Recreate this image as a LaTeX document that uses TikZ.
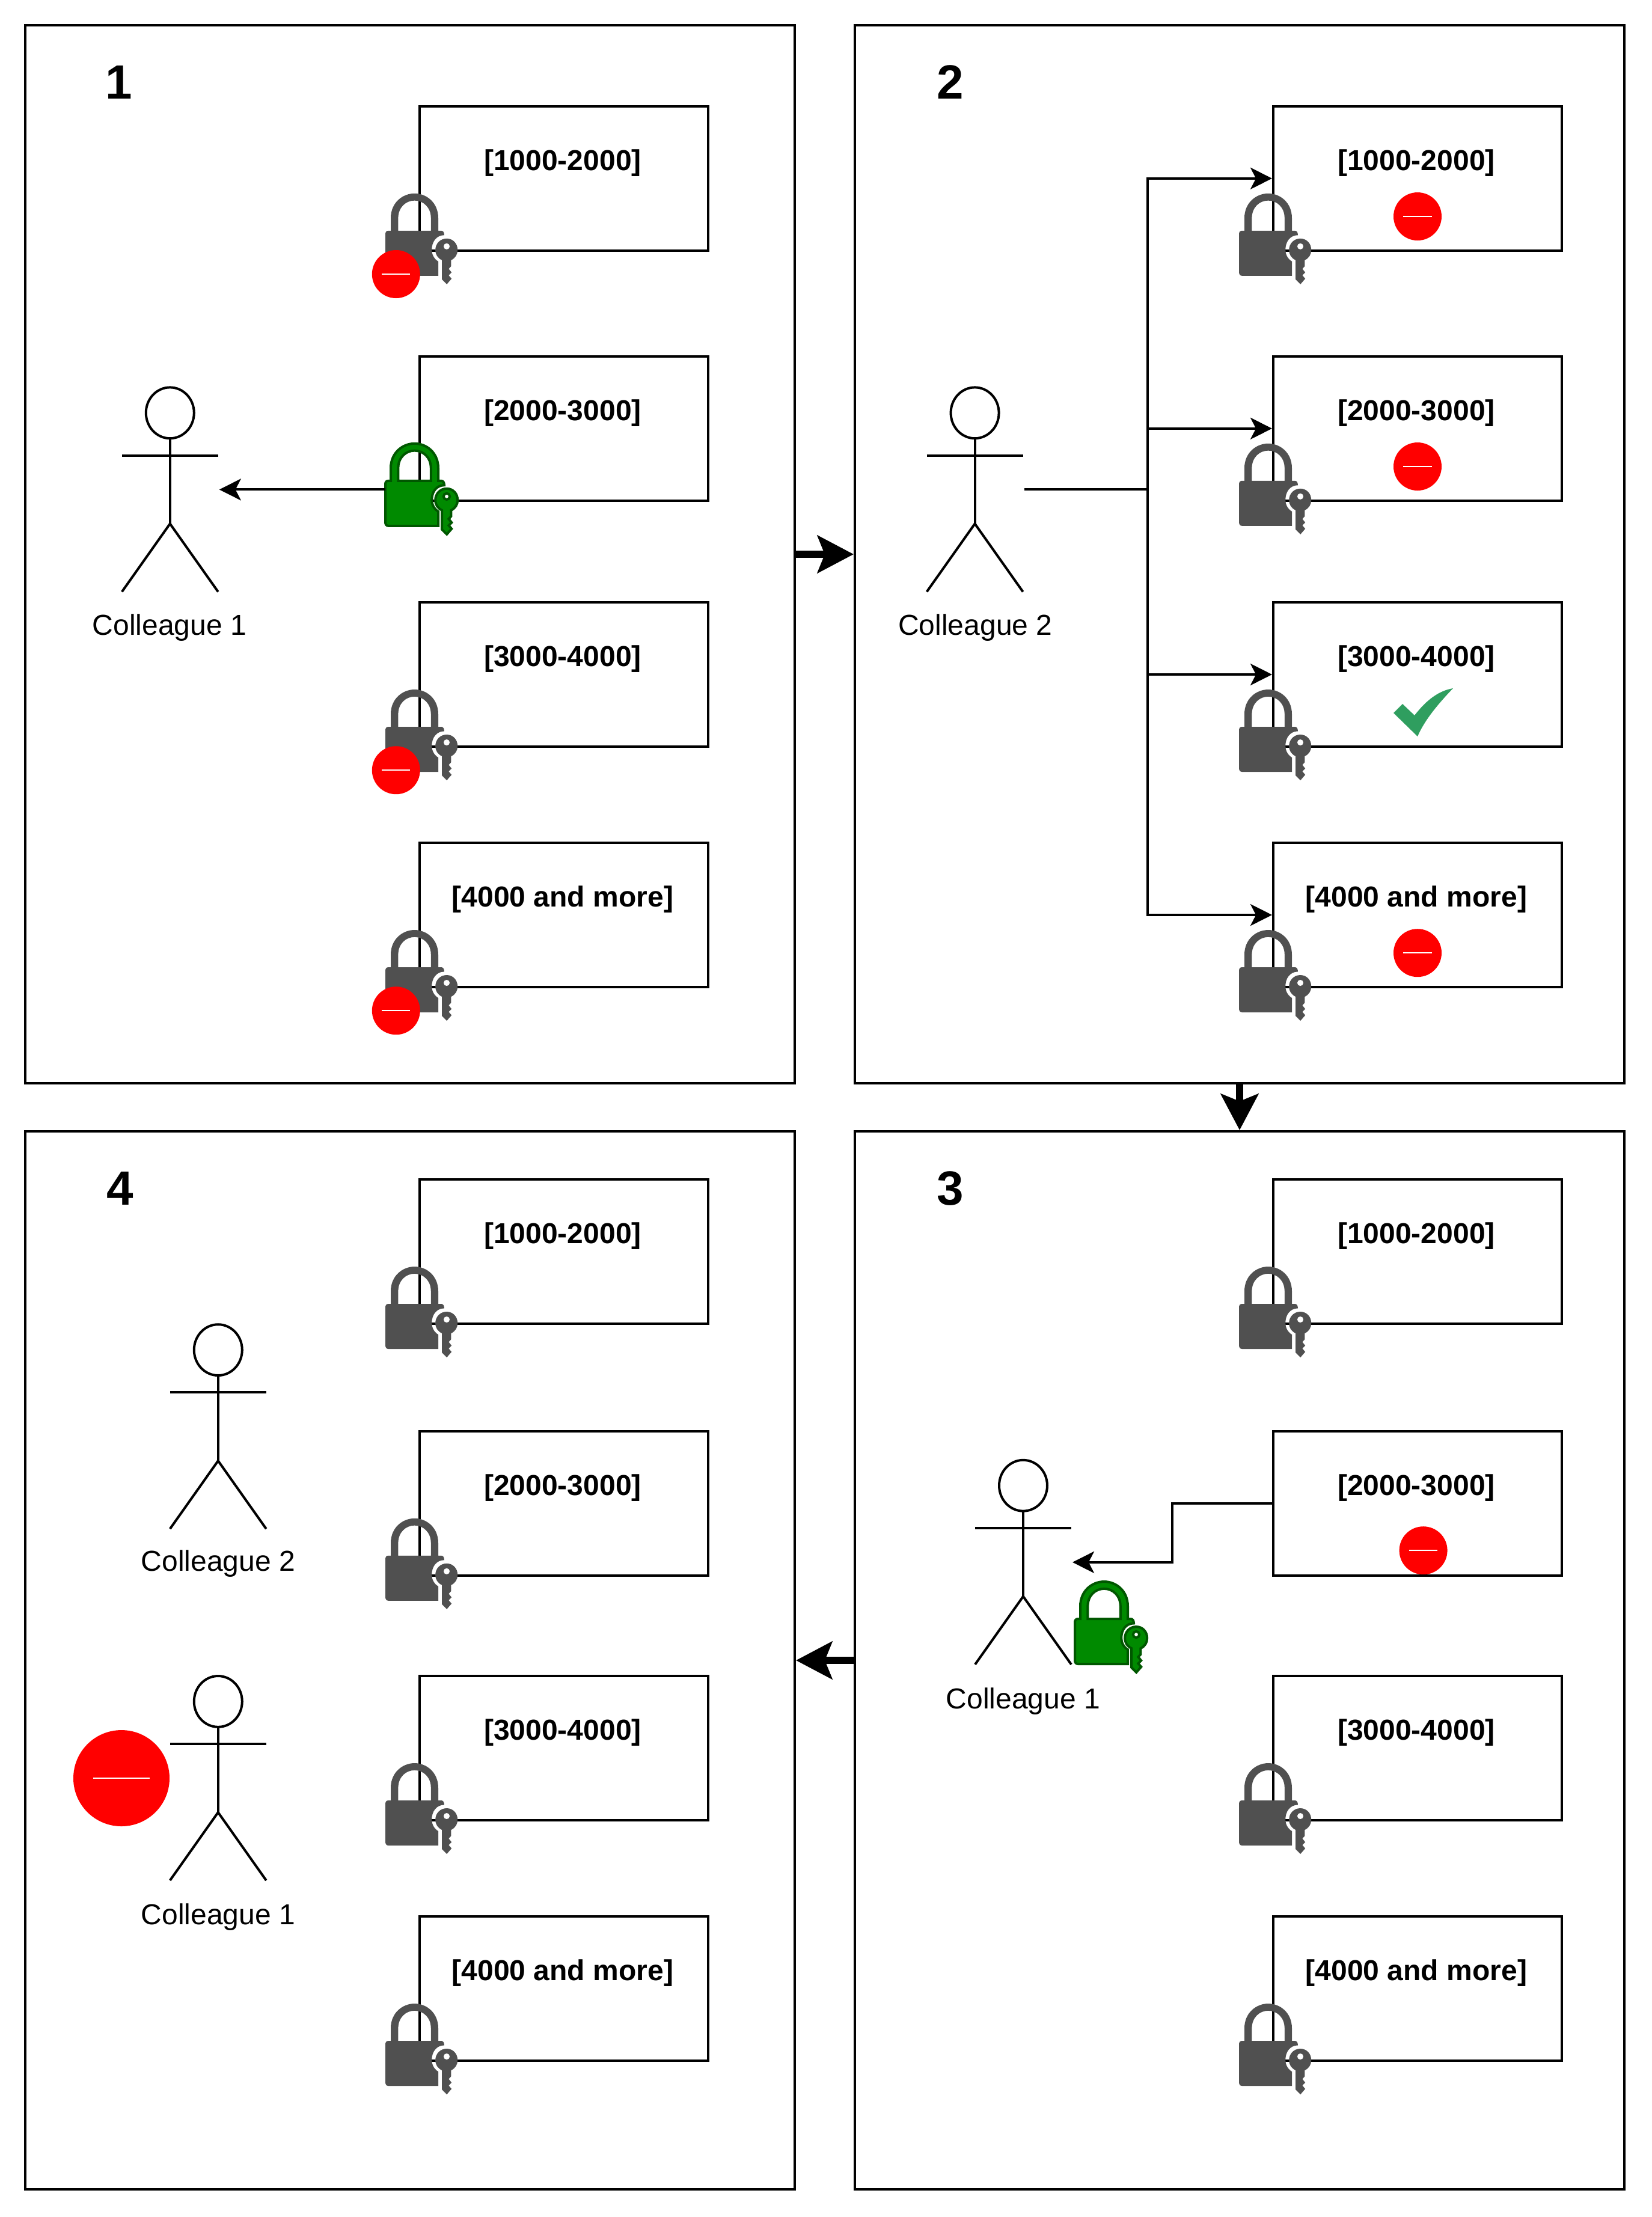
\documentclass[tikz,border=0pt]{standalone}
\usepackage{fontspec}
\setmainfont{Liberation Sans}
\usetikzlibrary{arrows.meta,calc}
\definecolor{lockgrey}{HTML}{505050}
\definecolor{lockgreen}{HTML}{008A00}
\definecolor{lockdark}{HTML}{005700}
\definecolor{okgreen}{HTML}{2F9E5F}
\definecolor{stopred}{HTML}{FF0000}
\tikzset{
  panel/.style={draw=black,fill=none,line width=1pt,rectangle,inner sep=0pt,minimum width=320pt,minimum height=440pt,anchor=north west},
  rangebox/.style={draw=black,line width=1pt,rectangle,inner sep=0pt,minimum width=120pt,minimum height=60pt,anchor=north west},
  rangetext/.style={font=\bfseries\fontsize{12}{14}\selectfont,inner sep=0pt},
  nametext/.style={font=\fontsize{12}{14}\selectfont,inner sep=0pt},
  numtext/.style={font=\bfseries\fontsize{20}{24}\selectfont,inner sep=0pt},
  conn/.style={draw=black,line width=1pt,-{Stealth[length=9pt,width=9pt,inset=2.3pt]}},
  trunk/.style={draw=black,line width=1pt},
  bigconn/.style={draw=black,line width=3pt,-{Stealth[length=15pt,width=15.5pt,inset=3pt]}},
  actorbox/.style={rectangle,inner sep=0pt,minimum width=40pt,minimum height=85pt},
  stopdisc/.style={circle,fill=stopred,inner sep=0pt,minimum size=#1},
  pics/lock/.style n args={2}{code={
    \coordinate (-w) at (-13.75,-5.1);
    \path[fill=#1,draw=#2,line width=1pt,even odd rule]
      (-12.5,-8.75) -- (-11.5,-8.75) -- (-11.5,-14)
      .. controls (-11.5,-20.5) and (-6.5,-24.25) .. (-1.6,-24.25)
      .. controls (3.3,-24.25) and (8.25,-20.5) .. (8.25,-14)
      -- (8.25,-8.75) -- (9.5,-8.75)
      .. controls (10.3,-8.75) and (10.75,-8) .. (10.75,-6.9)
      .. controls (7.5,-6.9) and (5.55,-4.2) .. (5.55,-0.75)
      .. controls (5.55,1) and (6.5,3) .. (8.25,4)
      -- (8.25,10) -- (-12.5,10)
      .. controls (-13.3,10) and (-13.75,9.3) .. (-13.75,8.5)
      -- (-13.75,-7.3)
      .. controls (-13.75,-8.2) and (-13.3,-8.75) .. (-12.5,-8.75) -- cycle
      (-8.4,-8.75) -- (5.2,-8.75) -- (5.2,-14)
      .. controls (5.2,-18.5) and (2,-21.3) .. (-1.6,-21.3)
      .. controls (-5.2,-21.3) and (-8.4,-18.5) .. (-8.4,-14) -- cycle;
    \path[fill=#1,draw=#2,line width=1pt,even odd rule]
      (9.8,3.5)
      .. controls (8,2.6) and (7.05,1.2) .. (7.05,-0.75)
      .. controls (7.05,-3.4) and (9.1,-5.5) .. (11.75,-5.5)
      .. controls (14.4,-5.5) and (16.3,-3.4) .. (16.3,-0.75)
      .. controls (16.3,1.1) and (15.4,2.6) .. (13.6,3.5)
      -- (13.6,6) -- (12.6,7.1) -- (13.8,8.6) -- (12.6,9.8) -- (13.8,11.2) -- (11.8,13.5) -- (9.8,11.5) -- cycle
      (11.75,-2.25) circle[radius=1.3];
  }},
  pics/stick/.style={code={
    \draw[line width=1pt] (0,-31.9) ellipse[x radius=10,y radius=10.6];
    \draw[line width=1pt] (0,-21.25) -- (0,14.2);
    \draw[line width=1pt] (-20,-14.2) -- (20,-14.2);
    \draw[line width=1pt] (-20,42.5) -- (0,14.2) -- (20,42.5);
  }},
}
\newcommand{\rbox}[4]{%
  \node[rangebox] (#1) at (#2,#3) {};
  \node[rangetext] (#1t) at ($(#1.north west)+(60,24)$) {#4};
}
\begin{document}
\begin{tikzpicture}[x=1pt,y=-1pt,line width=1pt]
\useasboundingbox (0,0) rectangle (687,922);
\node[panel] (p1) at (10,10) {};
\node[panel] (p2) at (355,10) {};
\node[panel] (p3) at (355,470) {};
\node[panel] (p4) at (10,470) {};
\node[numtext] (n1) at (49.5,34.2) {1};
\node[numtext] (n2) at (395.2,34.2) {2};
\node[numtext] (n3) at (395.2,494.3) {3};
\node[numtext] (n4) at (50,494.3) {4};
\draw[bigconn] (p1.east) -- (p2.west);
\draw[bigconn] (p2.south) -- (p3.north);
\draw[bigconn] (p3.west) -- (p4.east);
% panel 1
\rbox{a1}{174}{43.7}{[1000-2000]}
\rbox{a2}{174}{147.7}{[2000-3000]}
\rbox{a3}{174}{250}{[3000-4000]}
\rbox{a4}{174}{350}{[4000 and more]}
\pic at (a1.south west) {lock={lockgrey}{none}};
\pic (la2) at (a2.south west) {lock={lockgreen}{lockdark}};
\pic at (a3.south west) {lock={lockgrey}{none}};
\pic at (a4.south west) {lock={lockgrey}{none}};
\foreach \b in {a1,a3,a4}{
  \node[stopdisc=20pt] (s\b) at ($(\b.south west)+(-9.3,9.3)$) {};
  \draw[white,line width=0.4pt] ($(s\b.center)+(-5.9,0)$) -- ($(s\b.center)+(5.9,0)$);
}
\node[actorbox] (h1) at (70.7,203.6) {};
\pic at (h1.center) {stick};
\node[nametext] (h1t) at (70.5,261) {Colleague 1};
\draw[conn] (la2-w |- h1.east) -- (h1.east);
% panel 2
\rbox{b1}{529}{43.7}{[1000-2000]}
\rbox{b2}{529}{147.7}{[2000-3000]}
\rbox{b3}{529}{250}{[3000-4000]}
\rbox{b4}{529}{350}{[4000 and more]}
\foreach \b in {b1,b2,b3,b4}{\pic at (\b.south west) {lock={lockgrey}{none}};}
\foreach \b in {b1,b2,b4}{
  \node[stopdisc=20pt] (s\b) at ($(\b.north)+(0,46.3)$) {};
  \draw[white,line width=0.4pt] ($(s\b.center)+(-5.9,0)$) -- ($(s\b.center)+(5.9,0)$);
}
\fill[okgreen] (579.5,296.5) -- (583.25,292.75) -- (588.25,297.5)
  .. controls (593.5,290.75) and (598.5,287.25) .. (604.25,286.25)
  .. controls (598.5,292.25) and (592.5,299.25) .. (589.5,306.25) -- cycle;
\node[actorbox] (h2) at (405.4,203.6) {};
\pic at (h2.center) {stick};
\node[nametext] (h2t) at (405.6,261) {Colleague 2};
\coordinate (tr) at (477.2,203.6);
\draw[trunk] (h2.east) -- (tr);
\foreach \b in {b1,b2,b3,b4}{\draw[conn] (tr) |- (\b.west);}
% panel 3
\rbox{c1}{529}{490}{[1000-2000]}
\rbox{c2}{529}{594.7}{[2000-3000]}
\rbox{c3}{529}{696.5}{[3000-4000]}
\rbox{c4}{529}{796.5}{[4000 and more]}
\foreach \b in {c1,c3,c4}{\pic at (\b.south west) {lock={lockgrey}{none}};}
\node[stopdisc=20pt] (sc2) at ($(c2.north)+(2.4,50.1)$) {};
\draw[white,line width=0.4pt] ($(sc2.center)+(-5.9,0)$) -- ($(sc2.center)+(5.9,0)$);
\node[actorbox] (h3) at (425.5,649.7) {};
\pic at (h3.center) {stick};
\node[nametext] (h3t) at (425.5,707.6) {Colleague 1};
\coordinate (lk3) at (460.75,682);
\pic at (lk3) {lock={lockgreen}{lockdark}};
\coordinate (bendx) at (487.5,640);
\draw[conn] (c2.west) -| (bendx) |- (h3.east);
% panel 4
\rbox{d1}{174}{490}{[1000-2000]}
\rbox{d2}{174}{594.7}{[2000-3000]}
\rbox{d3}{174}{696.5}{[3000-4000]}
\rbox{d4}{174}{796.5}{[4000 and more]}
\foreach \b in {d1,d2,d3,d4}{\pic at (\b.south west) {lock={lockgrey}{none}};}
\node[actorbox] (h4) at (90.7,593.3) {};
\pic at (h4.center) {stick};
\node[nametext] (h4t) at (90.7,650.3) {Colleague 2};
\node[actorbox] (h5) at (90.7,739.5) {};
\pic at (h5.center) {stick};
\node[nametext] (h5t) at (90.7,797.3) {Colleague 1};
\node[stopdisc=40pt] (sbig) at (50.5,739.5) {};
\draw[white,line width=0.4pt] ($(sbig.center)+(-11.8,0)$) -- ($(sbig.center)+(11.8,0)$);
\end{tikzpicture}
\end{document}
